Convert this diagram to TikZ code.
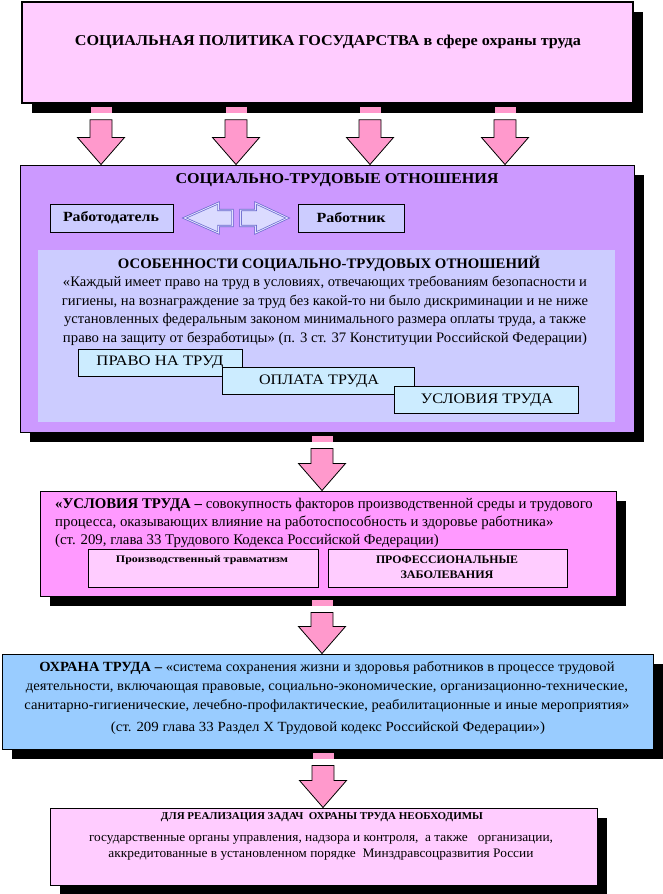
\documentclass[tikz,border=0pt]{standalone}
\usepackage{fontspec}
\usepackage{graphicx}
\setmainfont{Liberation Serif}
\usetikzlibrary{shadows,calc,fit}
\definecolor{pinkA}{HTML}{FFCCFF}
\definecolor{purpA}{HTML}{CC99FF}
\definecolor{lavA}{HTML}{CCCCFF}
\definecolor{cyanA}{HTML}{CCECFF}
\definecolor{magA}{HTML}{FF99FF}
\definecolor{blueA}{HTML}{99CCFF}
\definecolor{arrowA}{HTML}{FF99CC}
\definecolor{outlineA}{HTML}{6666CC}
\newcommand\myfs[2]{\fontsize{#1}{#2}\selectfont}
\newcommand\fw[2]{\resizebox{#1pt}{\height}{#2}}
\tikzset{
  bigbox/.style={draw=black, line width=1pt, inner sep=0pt,
    drop shadow={shadow xshift=10pt, shadow yshift=-10pt, fill=black, opacity=1}},
  plainbox/.style={draw=black, line width=0.8pt, inner sep=0pt},
  flatbox/.style={inner sep=0pt},
  txt/.style={inner sep=0pt, font=\myfs{14.5}{18.6}},
  btxt/.style={inner sep=0pt, font=\bfseries\myfs{15}{18.6}},
  hollowarrow/.style={draw=outlineA, line width=0.7pt, double=lavA!60!white, double distance=0.9pt, fill=lavA!70!white, line join=miter},
  blockarrow/.style={fill=arrowA, draw=black, line width=0.8pt},
  stub/.style={fill=arrowA}
}
% #1 x position, #2 upper node, #3 lower node
\newcommand\downarr[3]{%
  \path[stub] let \p1=(#2.south), \p2=(#3.north) in
    (#1pt-10.5pt, \y1-3pt) rectangle (#1pt+10.5pt, \y1-9pt);
  \path[blockarrow] let \p1=(#2.south), \p2=(#3.north) in
    (#1pt-11pt, \y1-16pt) -- (#1pt+11pt,\y1-16pt) -- (#1pt+11pt,\y2+27pt)
    -- (#1pt+23.5pt,\y2+27pt) -- (#1pt,\y2) -- (#1pt-23.5pt,\y2+27pt)
    -- (#1pt-11pt,\y2+27pt) -- cycle;}
\begin{document}
\begin{tikzpicture}[x=1pt,y=-1pt]
\useasboundingbox (0,0) rectangle (663,894);
\fill[white] (0,0) rectangle (663,894);

% box 1
\node[bigbox, fill=pinkA, line width=1.6pt, fit={(22,2) (633,103)}] (b1) {};
\node[btxt] (t1) at (328,42) {\fw{506}{СОЦИАЛЬНАЯ ПОЛИТИКА ГОСУДАРСТВА в сфере охраны труда}};

% box 2
\node[bigbox, fill=purpA, fit={(20,165) (634,432)}] (b2) {};
\node[btxt] (t2) at (337,180) {\fw{323}{СОЦИАЛЬНО-ТРУДОВЫЕ ОТНОШЕНИЯ}};
\node[plainbox, fill=lavA, fit={(50,204) (173,232)}] (emp) {};
\node[btxt, font=\bfseries\myfs{14}{16}] at (111,218) {\fw{96}{Работодатель}};
\node[plainbox, fill=lavA, fit={(298,204) (404,232)}] (wrk) {};
\node[btxt, font=\bfseries\myfs{14}{16}] at (351,218) {\fw{69}{Работник}};
\coordinate (la) at ($(emp.east)+(11,0)$);
\coordinate (ra) at ($(wrk.west)+(-10,0)$);
\path[hollowarrow] (la) -- ++(34,-15) -- ++(0,7) -- ++(14,0) -- ++(0,16) -- ++(-14,0) -- ++(0,7) -- cycle;
\path[hollowarrow] (ra) -- ++(-32,-15) -- ++(0,7) -- ++(-15,0) -- ++(0,16) -- ++(15,0) -- ++(0,7) -- cycle;

\node[flatbox, fill=lavA, fit={(38,250) (615,422)}] (b2in) {};
\node[btxt, font=\bfseries\myfs{14.5}{18.6}] (t3) at (329,264) {\fw{422}{ОСОБЕННОСТИ СОЦИАЛЬНО-ТРУДОВЫХ ОТНОШЕНИЙ}};
\node[txt, align=center] (t4) at (325,311) {\fw{524}{«Каждый имеет право на труд в условиях, отвечающих требованиям безопасности и}\\
\fw{526}{гигиены, на вознаграждение за труд без какой-то ни было дискриминации и не ниже}\\
\fw{522}{установленных федеральным законом минимального размера оплаты труда, а также}\\
\fw{524}{право на защиту от безработицы» (п. 3 ст. 37 Конституции Российской Федерации)}};

\node[plainbox, fill=cyanA, fit={(78,349) (242,376)}] (p1) {};
\node[txt] at (160,362) {\fw{127}{ПРАВО НА ТРУД}};
\node[plainbox, fill=cyanA, fit={(222,367) (414,394)}] (p2) {};
\node[txt] at (319,381) {\fw{120}{ОПЛАТА ТРУДА}};
\node[plainbox, fill=cyanA, fit={(394,386) (578,413)}] (p3) {};
\node[txt] at (487,400) {\fw{132}{УСЛОВИЯ ТРУДА}};

% box 3
\node[bigbox, fill=magA, fit={(40,491) (616,596)}] (b3) {};
\node[txt, anchor=base west, font=\myfs{14.8}{18.6}] (t5) at (55,508) {\textbf{«УСЛОВИЯ ТРУДА –} совокупность факторов производственной среды и трудового};
\node[txt, anchor=base west, font=\myfs{14.8}{18.6}] (t6) at (55,526) {процесса, оказывающих влияние на работоспособность и здоровье работника»};
\node[txt, anchor=base west, font=\myfs{14.8}{18.6}] (t7) at (55,544) {(ст. 209, глава 33 Трудового Кодекса Российской Федерации)};
\node[plainbox, fill=pinkA, fit={(88,549) (318,587)}] (s1) {};
\node[inner sep=0pt, font=\bfseries\myfs{10}{11}] at (202,560) {\fw{172}{Производственный травматизм}};
\node[plainbox, fill=pinkA, fit={(328,549) (567,587)}] (s2) {};
\node[inner sep=0pt, font=\bfseries\myfs{11.5}{14.5}, align=center] at (447,567) {\fw{142}{ПРОФЕССИОНАЛЬНЫЕ}\\\fw{93}{ЗАБОЛЕВАНИЯ}};

% box 4
\node[bigbox, fill=blueA, fit={(2,654) (653,749)}] (b4) {};
\node[txt, align=center, font=\myfs{14}{18.8}] (t8) at (327,687) {\fw{575}{\textbf{ОХРАНА ТРУДА –} «система сохранения жизни и здоровья работников в процессе трудовой}\\
\fw{602}{деятельности, включающая правовые, социально-экономические, организационно-технические,}\\
\fw{605}{санитарно-гигиенические, лечебно-профилактические, реабилитационные и иные мероприятия»}};
\node[txt, font=\myfs{14}{18.8}] (t9) at (328,728) {\fw{434}{(ст. 209 глава 33 Раздел Х Трудовой кодекс Российской Федерации»)}};

% box 5
\node[bigbox, fill=pinkA, fit={(50,808) (597,885)}] (b5) {};
\node[inner sep=0pt, font=\bfseries\myfs{10.5}{11}] (t10) at (322,817) {\fw{322}{ДЛЯ РЕАЛИЗАЦИЯ ЗАДАЧ \ ОХРАНЫ ТРУДА НЕОБХОДИМЫ}};
\node[inner sep=0pt, font=\myfs{13}{16}, align=center] (t11) at (321,848) {\fw{464}{государственные органы управления, надзора и контроля, \ а также \ \ организации,}\\
\fw{425}{аккредитованные в установленном порядке \ Минздравсоцразвития России}};

% arrows
\downarr{101}{b1}{b2}
\downarr{236}{b1}{b2}
\downarr{370}{b1}{b2}
\downarr{505}{b1}{b2}
\downarr{322}{b2}{b3}
\downarr{322}{b3}{b4}
\downarr{323}{b4}{b5}
\end{tikzpicture}
\end{document}
